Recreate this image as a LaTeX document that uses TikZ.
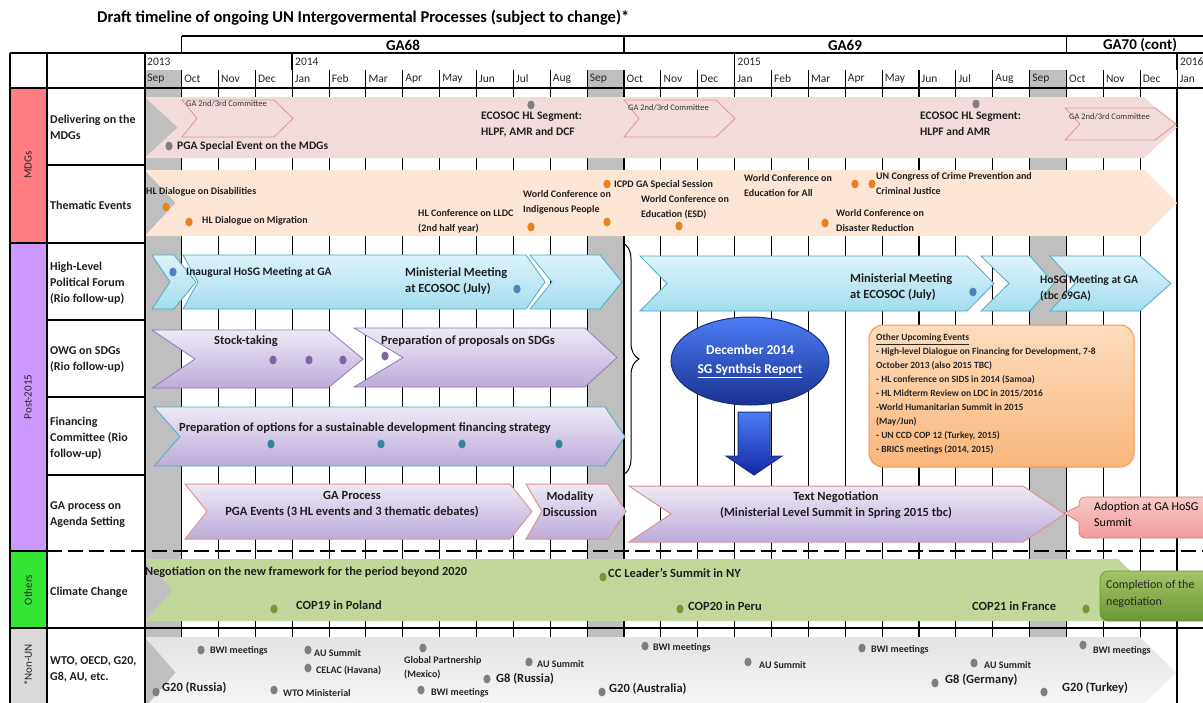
\documentclass[tikz,border=0pt]{standalone}
\usepackage{fontspec}
\setmainfont{Carlito}
\usetikzlibrary{decorations.pathreplacing,shapes.geometric}
\definecolor{sepgray}{HTML}{BFBFBF}
\definecolor{mdgred}{HTML}{FF7C80}
\definecolor{postpurple}{HTML}{CC99FF}
\definecolor{othgreen}{HTML}{33E633}
\definecolor{nongray}{HTML}{D9D9D9}
\definecolor{pinkbar}{HTML}{F2DCDB}
\definecolor{pinkedge}{HTML}{D99694}
\definecolor{peachbar}{HTML}{FDE6D5}
\definecolor{cyantop}{HTML}{DDF3FA}
\definecolor{cyanbot}{HTML}{A3DDEE}
\definecolor{cyanedge}{HTML}{4BACC6}
\definecolor{lavtop}{HTML}{EEE9F5}
\definecolor{lavbot}{HTML}{BDABD9}
\definecolor{lavedge}{HTML}{8F7BB8}
\definecolor{rededge}{HTML}{C0504D}
\definecolor{climgreen}{HTML}{C4D79B}
\definecolor{dotgray}{HTML}{7F7F7F}
\definecolor{dotorange}{HTML}{E8821E}
\definecolor{dotblue}{HTML}{4F81BD}
\definecolor{dotpurple}{HTML}{7F649F}
\definecolor{dotteal}{HTML}{31859C}
\definecolor{dotgreen}{HTML}{77933C}
\definecolor{orangetop}{HTML}{FDDCBD}
\definecolor{orangebot}{HTML}{FAB77C}
\definecolor{orangeedge}{HTML}{F79646}
\definecolor{bluetop}{HTML}{4C7DF5}
\definecolor{bluebot}{HTML}{18318F}
\definecolor{navy}{HTML}{17307A}
\definecolor{redtop}{HTML}{F8C9C8}
\definecolor{redbot}{HTML}{F29B99}
\definecolor{greentop}{HTML}{A6C468}
\definecolor{greenbot}{HTML}{6B9633}
\newcommand{\chevr}[7]{\path[#7] (#1,#3) -- (#2,#3) -- ({#2+#6},{(#3+#4)/2}) -- (#2,#4) -- (#1,#4) -- ({#1+#5},{(#3+#4)/2}) -- cycle;}
\newcommand{\pin}[3]{\fill[#3] (#1,#2) ellipse [x radius=3.6, y radius=4.4];}
\tikzset{
  bt/.style={font=\fontsize{12.5}{16}\selectfont\bfseries, inner sep=0pt, align=left, anchor=west, text=black!88},
  bs/.style={font=\fontsize{11.5}{16}\selectfont\bfseries, inner sep=0pt, align=left, anchor=west, text=black!88},
  ct/.style={font=\fontsize{12.5}{16}\selectfont\bfseries, inner sep=0pt, align=center, text=black!88},
  tt/.style={font=\fontsize{10}{15}\selectfont\bfseries, inner sep=0pt, align=left, anchor=west, text=black!88},
  st/.style={font=\fontsize{10}{14}\selectfont\bfseries, inner sep=0pt, align=left, anchor=west, text=black!85},
  gt/.style={font=\fontsize{12.5}{14}\selectfont\bfseries, inner sep=0pt, anchor=west, text=black!88},
  tiny/.style={font=\fontsize{8.5}{9}\selectfont, inner sep=0pt, anchor=west, text=black!80},
  rl/.style={font=\fontsize{12}{16}\selectfont\bfseries, inner sep=0pt, anchor=west, align=left, text=black!88},
  cat/.style={font=\fontsize{11}{12}\selectfont, rotate=90, inner sep=0pt, text=black!85},
  mon/.style={font=\fontsize{11.5}{12}\selectfont, inner sep=0pt, anchor=west, text=black!85},
  gridln/.style={line width=1.1pt},
  tgrid/.style={line width=1.8pt},
  border/.style={line width=1.6pt},
  cyanbar/.style={top color=cyantop, bottom color=cyanbot, draw=cyanedge, line width=0.8pt},
  lavbar/.style={top color=lavtop, bottom color=lavbot, draw=lavedge, line width=0.8pt},
  finbar/.style={top color=lavtop, bottom color=lavbot, draw=cyanedge, line width=0.8pt},
  gabar/.style={top color=lavtop, bottom color=lavbot, draw=pinkedge, line width=1pt},
  combar/.style={fill=pinkbar, draw=pinkedge, line width=0.8pt}
}
\begin{document}
\begin{tikzpicture}[x=1pt,y=-1pt]
\useasboundingbox (0,0) rectangle (1203,702);
\clip (0,0) rectangle (1203,702);
\fill[white] (0,0) rectangle (1203,702);
% title and header
\node[anchor=west, inner sep=0pt, font=\fontsize{16.5}{18}\selectfont\bfseries] (title) at (97,18) {Draft timeline of ongoing UN Intergovermental Processes (subject to change)*};
\node[inner sep=0pt, font=\fontsize{15}{16}\selectfont\bfseries] (ga68) at (403,45) {GA68};
\node[inner sep=0pt, font=\fontsize{15}{16}\selectfont\bfseries] (ga69) at (845,45) {GA69};
\node[inner sep=0pt, font=\fontsize{15}{16}\selectfont\bfseries] (ga70) at (1140,45) {GA70 (cont)};
\node[mon] (y13) at (147,62) {2013};
\node[mon] (y14) at (295,62) {2014};
\node[mon] (y15) at (737.5,62) {2015};
\node[mon] (y16) at (1180,62) {2016};
% Sep columns
\foreach \i in {0,12,24}{\pgfmathsetmacro\xx{144.7+36.87*\i}
  \fill[sepgray] (\xx,70) rectangle (\xx+36.87,712);}
% category fills
\fill[mdgred] (10,88) rectangle (47,243);
\fill[postpurple] (10,243) rectangle (47,551);
\fill[othgreen] (10,551) rectangle (47,628);
\fill[nongray] (10,628) rectangle (47,712);
% month labels
\foreach \i/\m in {0/Sep,1/Oct,2/Nov,3/Dec,4/Jan,5/Feb,6/Mar,7/Apr,8/May,9/Jun,10/Jul,11/Aug,12/Sep,13/Oct,14/Nov,15/Dec,16/Jan,17/Feb,18/Mar,19/Apr,20/May,21/Jun,22/Jul,23/Aug,24/Sep,25/Oct,26/Nov,27/Dec,28/Jan}{
  \pgfmathsetmacro\xx{144.7+36.87*\i}
  \node[mon] (m\i) at (\xx+2.5,79) {\m};}
% grid lines
\foreach \i in {1,...,29}{\pgfmathsetmacro\xx{144.7+36.87*\i}
  \draw[gridln] (\xx,70) -- (\xx,712);}
\foreach \i in {13,25,28}{\pgfmathsetmacro\xx{144.7+36.87*\i}
  \draw[tgrid] (\xx,88) -- (\xx,712);}
% ===== MDGs rows =====
\chevr{144.7}{1144}{97}{158}{33}{33}{fill=pinkbar}
\chevr{182}{274}{100}{137}{15}{19}{combar}
\chevr{624}{716}{100}{137}{15}{19}{combar}
\chevr{1065}{1155}{108}{140}{15}{21}{combar}
\node[tiny] (c1) at (186,104) {GA 2nd/3rd Committee};
\node[tiny] (c2) at (628,108) {GA 2nd/3rd Committee};
\node[tiny] (c3) at (1069,117) {GA 2nd/3rd Committee};
\pin{169}{146}{dotgray}
\node[bs] (pga) at (177,146) {PGA Special Event on the MDGs};
\pin{531}{105}{dotgray}
\node[bs] (eco1) at (481,125) {ECOSOC HL Segment:\\HLPF, AMR and DCF};
\pin{976}{104}{dotgray}
\node[bs] (eco2) at (920,124) {ECOSOC HL Segment:\\HLPF and AMR};
\chevr{144.7}{1144}{170}{236}{31}{33}{fill=peachbar}
\pin{166}{207}{dotorange}
\node[tt] (dis) at (146,192) {HL Dialogue on Disabilities};
\pin{189}{222}{dotorange}
\node[tt] (mig) at (202,221) {HL Dialogue on Migration};
\node[tt] (lldc) at (418,221) {HL Conference on LLDC\\(2nd half year)};
\pin{531}{227}{dotorange}
\node[tt] (ind) at (523,202) {World Conference on\\Indigenous People};
\pin{607}{222}{dotorange}
\pin{607}{184}{dotorange}
\node[tt] (icpd) at (614,185) {ICPD GA Special Session};
\pin{679}{226}{dotorange}
\node[tt] (esd) at (641,207) {World Conference on\\Education (ESD)};
\node[tt] (efa) at (744,186) {World Conference on\\Education for All};
\pin{855}{184}{dotorange}
\pin{872}{184}{dotorange}
\node[tt] (crime) at (876,184) {UN Congress of Crime Prevention and\\Criminal Justice};
\pin{825}{223}{dotorange}
\node[tt] (dis2) at (836,221) {World Conference on\\Disaster Reduction};
% ===== HLPF =====
\chevr{152}{174}{255}{309}{18}{22}{cyanbar}
\chevr{530}{600}{255}{309}{22}{22}{cyanbar}
\chevr{183}{526}{255}{309}{15}{19}{cyanbar}
\chevr{640}{967}{256}{311}{27}{27}{cyanbar}
\chevr{981}{1030}{256}{311}{28}{24}{cyanbar}
\chevr{1050}{1140}{256}{311}{25}{31}{cyanbar}
\pin{173}{272}{dotblue}
\node[bs] (inaug) at (186,272) {Inaugural HoSG Meeting at GA};
\node[bt] (min1) at (405,281) {Ministerial Meeting\\at ECOSOC (July)};
\pin{517}{289}{dotblue}
\node[bt] (min2) at (850,287) {Ministerial Meeting\\at ECOSOC (July)};
\pin{973}{292}{dotblue}
\node[bs] (hosg) at (1040,288) {HoSG Meeting at GA\\(tbc 69GA)};
% ===== OWG =====
\chevr{152}{328}{330}{388}{43}{35}{lavbar}
\chevr{354}{585}{328}{387}{49}{32}{lavbar}
\node[bt] (stock) at (214,341) {Stock-taking};
\pin{273}{360}{dotpurple}
\pin{309}{360}{dotpurple}
\pin{343}{360}{dotpurple}
\node[bt] (prep) at (381,341) {Preparation of proposals on SDGs};
\pin{385}{356}{dotpurple}
% ===== Financing =====
\chevr{154}{605}{407}{466}{26}{20}{finbar}
\node[bt] (fin) at (179,428) {Preparation of options for a sustainable development financing strategy};
\pin{271}{444}{dotteal}
\pin{381}{444}{dotteal}
\pin{462}{444}{dotteal}
\pin{559}{444}{dotteal}
% ===== GA process =====
\chevr{185}{510}{484}{539}{22}{22}{gabar}
\chevr{526}{608}{484}{539}{16}{18}{gabar}
\chevr{629}{1023}{486}{542}{42}{42}{gabar}
\node[ct] (gap) at (352,504) {GA Process\\PGA Events (3 HL events and 3 thematic debates)};
\node[ct] (mod) at (570,504) {Modality\\Discussion};
\node[ct] (txt) at (836,505) {Text Negotiation\\(Ministerial Level Summit in Spring 2015 tbc)};
\path[top color=redtop, bottom color=redbot, draw=redbot!80!black, line width=0.6pt, rounded corners=6] (1079,497) -- (1230,497) -- (1230,538) -- (1079,538) [sharp corners] -- (1079,522) -- (1064,513) -- (1079,506) [rounded corners=6] -- cycle;
\node[anchor=west, inner sep=0pt, align=left, font=\fontsize{12}{16}\selectfont] (adopt) at (1094,514) {Adoption at GA HoSG\\Summit};
% brace, synthesis report, arrow
\draw[line width=1pt, decorate, decoration={brace, amplitude=16pt}] (623,243) -- (623,475);
\node[ellipse, minimum width=145pt, minimum height=88pt, top color=bluetop, bottom color=bluebot, draw=navy, line width=1pt, text=white, align=center, font=\fontsize{13.5}{19}\selectfont\bfseries] (rep) at (750,361) {December 2014\\\underline{SG Synthsis Report}};
\path[top color=bluetop, bottom color=bluebot!80!blue, draw=navy, line width=1pt] (738,412) -- (770,412) -- (770,456) -- (782,456) -- (754,475) -- (726,456) -- (738,456) -- cycle;
% other events box
\draw[rounded corners=14, top color=orangetop, bottom color=orangebot, draw=orangeedge, line width=1pt] (869,325) rectangle (1134,467);
\node[anchor=north west, inner sep=0pt, align=left, font=\fontsize{9.5}{13.9}\selectfont\bfseries, text=black!85] (ev) at (876,334) {\underline{Other Upcoming Events}\\- High-level Dialogue on Financing for Development, 7-8\\October 2013 (also 2015 TBC)\\- HL conference on SIDS in 2014 (Samoa)\\- HL Midterm Review on LDC in 2015/2016\\-World Humanitarian Summit in 2015\\(May/Jun)\\- UN CCD COP 12 (Turkey, 2015)\\- BRICS meetings (2014, 2015)};
% ===== Climate =====
\chevr{144.7}{1118}{559}{621}{28}{32}{fill=climgreen}
\node[bt, font=\fontsize{12.3}{14}\selectfont\bfseries] (neg) at (145,572) {Negotiation on the new framework for the period beyond 2020};
\pin{274}{609}{dotgreen}
\node[bt] (cop19) at (296,605) {COP19 in Poland};
\pin{603}{577}{dotgreen}
\node[bt] (ccl) at (608,573) {CC Leader’s Summit in NY};
\pin{680}{609}{dotgreen}
\node[bt] (cop20) at (688,606) {COP20 in Peru};
\node[bt] (cop21) at (972,606) {COP21 in France};
\pin{1086}{609}{dotgreen}
\draw[rounded corners=8, top color=greentop, bottom color=greenbot, draw=greenbot, line width=0.6pt] (1100,571) rectangle (1230,621);
\node[anchor=west, inner sep=0pt, align=left, font=\fontsize{12}{17}\selectfont, text=black!85] (compl) at (1106,594) {Completion of the\\negotiation};
% ===== Non-UN =====
\chevr{144.7}{1140}{637}{708}{31}{36}{top color=gray!22, bottom color=gray!6}
\pin{201}{650}{dotgray}\node[st] (n1) at (210,651) {BWI meetings};
\pin{308}{650}{dotgray}\node[st] (n2) at (314,653) {AU Summit};
\pin{308}{668}{dotgray}\node[st] (n3) at (316,671) {CELAC (Havana)};
\pin{423}{648}{dotgray}\node[st] (n4) at (404,668) {Global Partnership\\(Mexico)};
\pin{529}{662}{dotgray}\node[st] (n5) at (537,664) {AU Summit};
\pin{487}{679}{dotgray}\node[gt] (n6) at (496,679) {G8 (Russia)};
\pin{156}{692}{dotgray}\node[gt] (n7) at (162,688) {G20 (Russia)};
\pin{274}{690}{dotgray}\node[st] (n8) at (283,693) {WTO Ministerial};
\pin{421}{690}{dotgray}\node[st] (n9) at (431,693) {BWI meetings};
\pin{645}{646}{dotgray}\node[st] (n10) at (653,648) {BWI meetings};
\pin{748}{662}{dotgray}\node[st] (n11) at (759,665) {AU Summit};
\pin{862}{648}{dotgray}\node[st] (n12) at (871,650) {BWI meetings};
\pin{974}{663}{dotgray}\node[st] (n13) at (984,665) {AU Summit};
\pin{935}{683}{dotgray}\node[gt] (n14) at (945,680) {G8 (Germany)};
\pin{602}{692}{dotgray}\node[gt] (n15) at (609,689) {G20 (Australia)};
\pin{1044}{692}{dotgray}\node[gt] (n16) at (1062,688) {G20 (Turkey)};
\pin{1083}{645}{dotgray}\node[st] (n17) at (1093,651) {BWI meetings};
% ===== left columns text =====
\node[cat] (k1) at (28,165) {MDGs};
\node[cat] (k2) at (28,397) {Post-2015};
\node[cat] (k3) at (28,590) {Others};
\node[cat] (k4) at (28,665) {*Non-UN};
\node[rl] (r1) at (50,127) {Delivering on the\\MDGs};
\node[rl] (r2) at (50,205) {Thematic Events};
\node[rl] (r3) at (50,283) {High-Level\\Political Forum\\(Rio follow-up)};
\node[rl] (r4) at (50,360) {OWG on SDGs\\(Rio follow-up)};
\node[rl] (r5) at (50,438) {Financing\\Committee (Rio\\follow-up)};
\node[rl] (r6) at (50,515) {GA process on\\Agenda Setting};
\node[rl] (r7) at (50,592) {Climate Change};
\node[rl] (r8) at (50,669) {WTO, OECD, G20,\\G8, AU, etc.};
% ===== border lines =====
\draw[border] (181.6,36) -- (1203,36);
\foreach \xx in {181.6,624.0,1066.5}{\draw[border] (\xx,36) -- (\xx,53);}
\foreach \xx in {144.7,292.2,734.6,1177.1}{\draw[border] (\xx,53) -- (\xx,70);}
\draw[border] (10,53) -- (1203,53);
\draw[border] (10,88) -- (1203,88);
\draw[border] (10,628) -- (1203,628);
\foreach \xx in {10,47,144.7}{\draw[border] (\xx,53) -- (\xx,712);}
\foreach \yy in {165,243,320,397,475}{\draw[border] (47,\yy) -- (144.7,\yy);}
\foreach \yy in {243,551}{\draw[border] (10,\yy) -- (47,\yy);}
\draw[line width=1.8pt, dash pattern=on 15pt off 6pt] (47,551) -- (1203,551);
\end{tikzpicture}
\end{document}
